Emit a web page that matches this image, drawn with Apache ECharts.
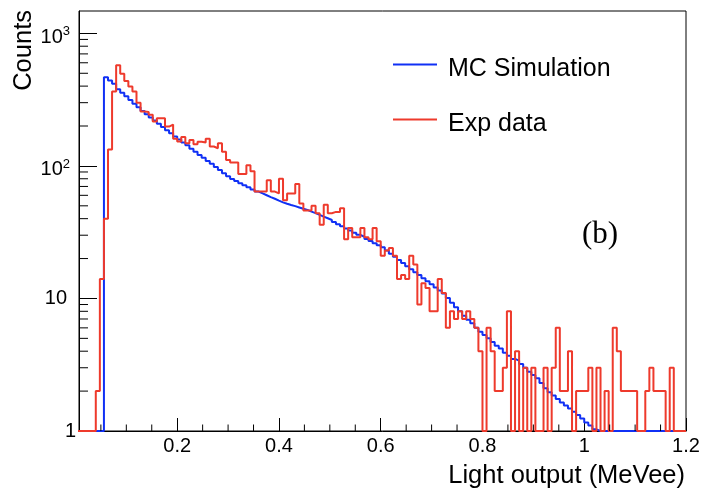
<!DOCTYPE html>
<html>
<head>
<meta charset="utf-8">
<script src="https://cdn.jsdelivr.net/npm/echarts@6/dist/echarts.min.js"></script>
<style>
html,body{margin:0;padding:0;background:#ffffff;}
#chart{width:704px;height:492px;}
</style>
</head>
<body>
<div id="chart"></div>
<script>
// ---- data -------------------------------------------------------------
const BIN_START = 0;        // MeVee, left edge of first bin
const BIN_WIDTH = 0.008;    // MeVee per bin (150 bins, 0 .. 1.2)

const seriesNames = ['MC Simulation', 'Exp data'];

const mcSimulation = [
  0, 0, 0, 0, 0, 0, 0, 467, 441, 416,
  379, 356, 335, 314, 295, 277, 260, 245, 232, 220,
  208, 197, 186, 176, 167, 158, 150, 143, 135, 128,
  121, 115, 109, 104, 98, 93, 88, 83.5, 79.8, 76.9,
  74.1, 71.4, 68.9, 66.4, 64, 62, 60.1, 58.2, 56.5, 54.7,
  53.1, 51.8, 50.7, 49.7, 48.6, 47.5, 46.6, 45.2, 44, 42.7,
  41.4, 40.3, 39.1, 37.7, 36.3, 35, 33.7, 32.5, 31.3, 30.2,
  29.2, 28.1, 27.1, 26.1, 25.2, 24.3, 23, 21.7, 20.6, 19.5,
  18.5, 17.5, 16.6, 15.8, 15, 14.2, 13.5, 12.8, 12.1, 11.5,
  10.9, 10.1, 9.3, 8.6, 8.0, 7.4, 6.9, 6.5, 6.0, 5.6,
  5.3, 5.0, 4.7, 4.4, 4.2, 3.9, 3.7, 3.5, 3.4, 3.2,
  3.0, 2.8, 2.65, 2.5, 2.3, 2.1, 1.96, 1.85, 1.74, 1.64,
  1.56, 1.48, 1.4, 1.32, 1.24, 1.16, 1.1, 1.03, 0, 0,
  0, 0, 0, 0, 0, 0, 0, 0, 0, 0,
  0, 0, 0, 0, 0, 0, 0, 0, 0, 0
];

const expData = [
  0, 0, 0, 0, 0, 2, 14, 40, 133, 364,
  575, 495, 438, 397, 364, 300, 257, 255, 243, 216,
  229, 229, 198, 205, 160, 153, 165, 148, 157, 146,
  152, 150, 160, 140, 136, 148, 128, 111, 106, 106,
  87, 87, 101, 91, 64, 64, 64, 78, 64, 62,
  80, 55, 62, 62, 73, 52, 46, 46, 50, 44,
  36, 51, 44, 45, 45, 48, 28, 34, 29, 29,
  34, 29, 28, 34, 27, 21, 23, 24, 21, 14,
  15, 14, 21, 18, 9, 13, 12, 8, 8, 14,
  11, 6, 8, 7, 8, 7, 8, 7, 6, 4,
  0, 6, 4, 2, 2, 3, 8, 0, 4, 0,
  3, 0, 3, 0, 0, 3, 0, 3, 6, 2,
  2, 4, 0, 2, 2, 2, 3, 0, 3, 0,
  2, 0, 6, 4, 2, 2, 2, 2, 0, 0,
  2, 3, 2, 2, 2, 0, 3, 0, 0, 0
];

const xMajorTicks = [0.2, 0.4, 0.6, 0.8, 1.0, 1.2];
const xTickLabels = ['0.2', '0.4', '0.6', '0.8', '1', '1.2'];
const xMinorTicks = [0.05, 0.1, 0.15, 0.25, 0.3, 0.35, 0.45, 0.5, 0.55, 0.65, 0.7, 0.75, 0.85, 0.9, 0.95, 1.05, 1.1, 1.15];
const yMajorTicks = [1, 10, 100, 1000];
const yTickLabels = ['{n|1}', '{t|10}', '{b|10}{s|2}', '{b|10}{s|3}'];
const yMinorTicks = [2, 3, 4, 5, 6, 7, 8, 9, 20, 30, 40, 50, 60, 70, 80, 90, 200, 300, 400, 500, 600, 700, 800, 900];

const X_MIN = 0.007, X_MAX = 1.2;
const Y_MIN = 1, Y_MAX = 1475;

const xTitle = 'Light output (MeVee)';
const yTitle = 'Counts';
const panelTag = '(b)';

// ---- build -------------------------------------------------------------
function histPoints(values) {
  // step histogram: one point per bin left edge, plus the closing right edge
  const pts = values.map((v, i) => [BIN_START + i * BIN_WIDTH, Math.max(v, Y_MIN)]);
  const last = values[values.length - 1];
  pts.push([BIN_START + values.length * BIN_WIDTH, Math.max(last, Y_MIN)]);
  return pts;
}

const FONT = 'Liberation Sans';
const chart = echarts.init(document.getElementById('chart'), null, {renderer: 'canvas'});

const tickSeries = {
  type: 'custom',
  silent: true,
  clip: false,
  z: 5,
  renderItem: function (params, api) {
    const p = api.coord([api.value(0), api.value(1)]);
    const len = api.value(2);
    const horiz = api.value(3) === 1;
    return {
      type: 'line',
      shape: horiz ? {x1: p[0], y1: p[1], x2: p[0] + len, y2: p[1]}
                   : {x1: p[0], y1: p[1], x2: p[0], y2: p[1] - len},
      style: {stroke: '#000', lineWidth: 1}
    };
  },
  data: xMinorTicks.map(v => [v, Y_MIN, 6.5, 0]).concat(yMinorTicks.map(v => [X_MIN, v, 9, 1]))
};

const legendCommon = {
  padding: 0, itemWidth: 44, itemHeight: 2, selectedMode: false,
  formatter: '{a|{name}}',
  textStyle: {
    fontSize: 25, fontFamily: FONT, color: '#000',
    rich: {a: {fontSize: 25, fontFamily: FONT, color: '#000', padding: [10, 0, 0, 6]}}
  }
};

const option = {
  animation: false,
  backgroundColor: '#ffffff',
  textStyle: {fontFamily: FONT},
  grid: {left: 79, right: 18, top: 11, bottom: 61, show: true, borderColor: '#000', borderWidth: 1, containLabel: false},
  xAxis: {
    type: 'value',
    min: X_MIN, max: X_MAX,
    axisLine: {show: true, lineStyle: {color: '#000', width: 1}},
    axisTick: {show: true, inside: true, length: 13, lineStyle: {color: '#000', width: 1}, customValues: xMajorTicks},
    axisLabel: {
      show: true, margin: 5, color: '#000', fontSize: 20, fontFamily: FONT,
      customValues: xMajorTicks,
      formatter: function (v) {
        const i = xMajorTicks.findIndex(t => Math.abs(t - v) < 1e-9);
        return i >= 0 ? xTickLabels[i] : '';
      }
    },
    splitLine: {show: false}
  },
  yAxis: {
    type: 'log',
    logBase: 10,
    min: Y_MIN, max: Y_MAX,
    axisLine: {show: true, lineStyle: {color: '#000', width: 1}},
    axisTick: {show: true, inside: true, length: 18, lineStyle: {color: '#000', width: 1}},
    axisLabel: {
      show: true, margin: 3, color: '#000', fontSize: 20, fontFamily: FONT,
      showMaxLabel: false,
      formatter: function (v) {
        const i = yMajorTicks.findIndex(t => Math.abs(t - v) < 1e-6 * t);
        return i >= 0 ? yTickLabels[i] : '';
      },
      rich: {
        n: {fontSize: 20, fontFamily: FONT, color: '#000'},
        t: {fontSize: 20, fontFamily: FONT, color: '#000', padding: [0, 9, 0, 0]},
        b: {fontSize: 20, lineHeight: 20, fontFamily: FONT, color: '#000', padding: [8, 0, 0, 0]},
        s: {fontSize: 13, lineHeight: 13, fontFamily: FONT, color: '#000', verticalAlign: 'top', padding: [2, 6, 0, 0]}
      }
    },
    splitLine: {show: false},
    minorSplitLine: {show: false}
  },
  legend: [
    Object.assign({data: [{name: seriesNames[0], icon: 'rect'}], left: 393, top: 57}, legendCommon),
    Object.assign({data: [{name: seriesNames[1], icon: 'rect'}], left: 393, top: 112}, legendCommon)
  ],
  graphic: [
    {type: 'text', x: 685, y: 476, style: {text: xTitle, font: '25.5px "Liberation Sans"', fill: '#000', textAlign: 'right', textVerticalAlign: 'middle'}},
    {type: 'text', x: 23.5, y: 10, rotation: Math.PI / 2, style: {text: yTitle, font: '25.5px "Liberation Sans"', fill: '#000', textAlign: 'right', textVerticalAlign: 'middle'}},
    {type: 'text', x: 582, y: 235, style: {text: panelTag, font: '31px "Liberation Serif"', fill: '#000', textAlign: 'left', textVerticalAlign: 'middle'}}
  ],
  series: [
    {
      name: seriesNames[0], type: 'line', step: 'end', data: histPoints(mcSimulation),
      symbol: 'none', showSymbol: false, clip: true, z: 2,
      lineStyle: {color: '#1030f5', width: 2}, itemStyle: {color: '#1030f5'}
    },
    {
      name: seriesNames[1], type: 'line', step: 'end', data: histPoints(expData),
      symbol: 'none', showSymbol: false, clip: true, z: 3,
      lineStyle: {color: '#ee3a2c', width: 2}, itemStyle: {color: '#ee3a2c'}
    },
    tickSeries
  ]
};

chart.setOption(option);
</script>
</body>
</html>
